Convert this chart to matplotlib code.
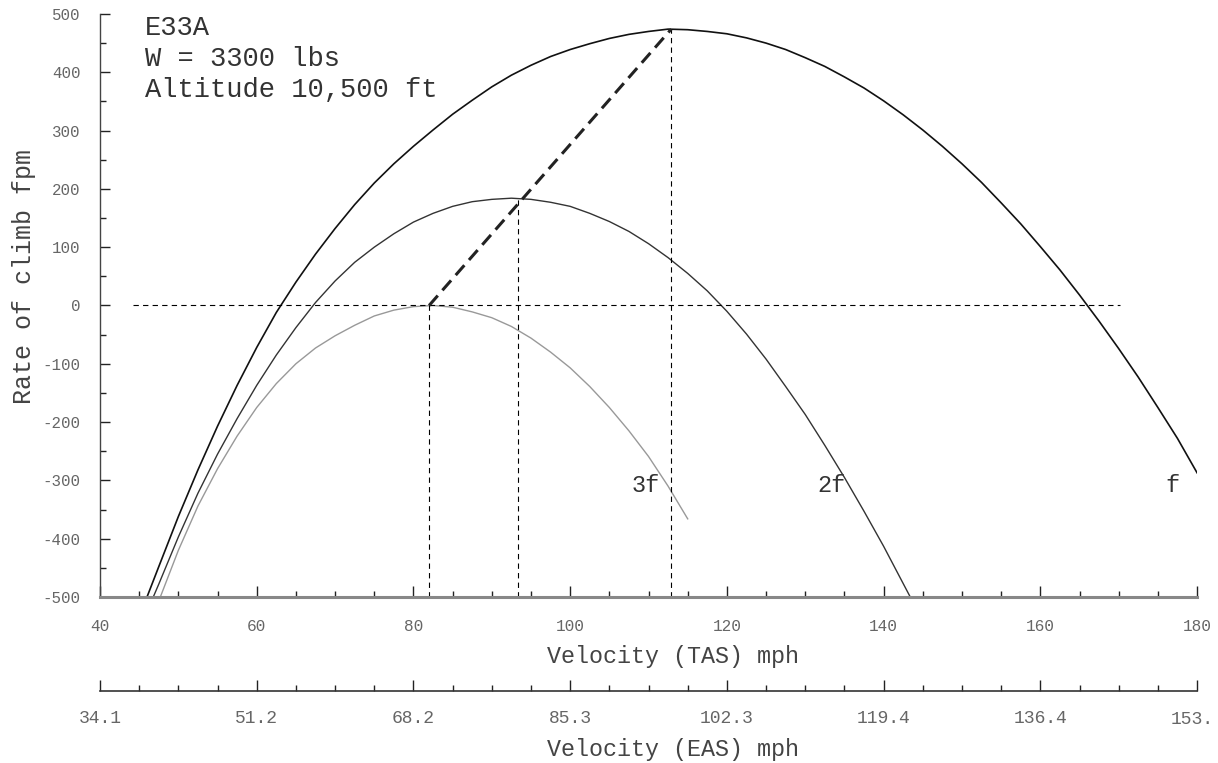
import matplotlib
matplotlib.use("Agg")
import matplotlib.pyplot as plt
from matplotlib.ticker import MultipleLocator

plt.rcParams['font.family'] = ['Liberation Mono', 'DejaVu Sans Mono']
plt.rcParams['axes.unicode_minus'] = False

# rate of climb curves (TAS mph, fpm)
v_f = [46, 47.5, 50, 52.5, 55, 57.5, 60, 62.5, 65, 67.5, 70, 72.5, 75, 77.5, 80, 82.5,
       85, 87.5, 90, 92.5, 95, 97.5, 100, 102.5, 105, 107.5, 110, 112.5, 115, 117.5,
       120, 122.5, 125, 127.5, 130, 132.5, 135, 137.5, 140, 142.5, 145, 147.5, 150,
       152.5, 155, 157.5, 160, 162.5, 165, 167.5, 170, 172.5, 175, 177.5, 180]
roc_f = [-500, -448, -362, -282, -207, -137, -72, -12, 40, 88, 132, 173, 210, 243, 273, 301,
         328, 352, 375, 395, 412, 427, 439, 449, 458, 465, 470, 474, 473, 470,
         466, 459, 450, 439, 425, 410, 392, 373, 351, 327, 301, 273, 243,
         211, 176, 140, 101, 61, 18, -27, -74, -123, -175, -228, -287]

v_2f = [46.8, 47.5, 50, 52.5, 55, 57.5, 60, 62.5, 65, 67.5, 70, 72.5, 75, 77.5, 80, 82.5,
        85, 87.5, 90, 92.5, 95, 97.5, 100, 102.5, 105, 107.5, 110, 112.5, 115, 117.5,
        120, 122.5, 125, 127.5, 130, 132.5, 135, 137.5, 140, 142.5, 143.4]
roc_2f = [-500, -478, -397, -322, -255, -194, -137, -85, -38, 5, 42, 74, 100, 123, 143, 158,
          170, 178, 182, 184, 182, 177, 170, 158, 144, 127, 106, 82, 55, 25,
          -10, -49, -92, -139, -187, -240, -295, -353, -413, -477, -500]

v_3f = [47.7, 50, 52.5, 55, 57.5, 60, 62.5, 65, 67.5, 70, 72.5, 75, 77.5, 80, 82.5,
        85, 87.5, 90, 92.5, 95, 97.5, 100, 102.5, 105, 107.5, 110, 112.5, 115]
roc_3f = [-500, -420, -344, -280, -224, -175, -134, -100, -73, -52, -34, -18, -8, -2, 0,
          -3, -11, -21, -36, -56, -80, -107, -139, -175, -215, -259, -310, -366]

# best climb points (peaks) and helper lines
peak_v = [82, 93.3, 112.9]
peak_roc = [0, 184, 474]

tas_ticks = [40, 60, 80, 100, 120, 140, 160, 180]
eas_labels = ["34.1", "51.2", "68.2", "85.3", "102.3", "119.4", "136.4", "153."]

fig = plt.figure(figsize=(12.18, 7.63), dpi=100)
ax = fig.add_axes([0.0821, 0.2176, 0.9007, 0.7641])

ax.plot(v_f, roc_f, color='#111111', lw=1.2)
ax.plot(v_2f, roc_2f, color='#333333', lw=1.0)
ax.plot(v_3f, roc_3f, color='#999999', lw=1.0)

# zero line and verticals
thin = dict(color='black', lw=0.8, dashes=(4.8, 3.8))
ax.plot([44.25, 170.2], [0, 0], **thin)
for v, r in zip(peak_v, peak_roc):
    ax.plot([v, v], [-500, r], **thin)

# line through the peaks
ax.plot([peak_v[0], peak_v[2]], [peak_roc[0], peak_roc[2]], color='#222222', lw=2.2,
        dashes=(4.3, 2.3))

txt = '#333333'
ax.text(111.5, -308, "3f", fontsize=17, color=txt, ha='right', va='center')
ax.text(135.1, -308, "2f", fontsize=17, color=txt, ha='right', va='center')
ax.text(176.8, -308, "f", fontsize=17, color=txt, ha='center', va='center')

ax.text(0.041, 0.976, "E33A", transform=ax.transAxes, fontsize=19.5, color=txt, va='center')
ax.text(0.041, 0.923, "W = 3300 lbs", transform=ax.transAxes, fontsize=19.5, color=txt, va='center')
ax.text(0.041, 0.870, "Altitude 10,500 ft", transform=ax.transAxes, fontsize=19.5, color=txt,
        va='center')

ax.set_xlim(40, 180)
ax.set_ylim(-500, 500)
ax.set_xticks(tas_ticks)
ax.xaxis.set_minor_locator(MultipleLocator(5))
ax.yaxis.set_major_locator(MultipleLocator(100))
ax.yaxis.set_minor_locator(MultipleLocator(50))

for s in ['top', 'right']:
    ax.spines[s].set_visible(False)
ax.spines['bottom'].set_color('#888888')
ax.spines['bottom'].set_linewidth(2.2)
ax.spines['left'].set_color('#444444')
ax.spines['left'].set_linewidth(1.0)

ax.tick_params(axis='x', which='major', direction='in', length=8, width=1, color='#222222',
               labelsize=11.6, labelcolor='#666666', pad=16)
ax.tick_params(axis='x', which='minor', direction='in', length=4.3, width=1, color='#222222')
ax.tick_params(axis='y', which='major', direction='in', length=7, width=1, color='#222222',
               labelsize=11.3, labelcolor='#666666', pad=14)
ax.tick_params(axis='y', which='minor', direction='in', length=4.3, width=1, color='#222222')

ax.set_xlabel("Velocity (TAS) mph", fontsize=16.8, color='#444444', labelpad=8)
ax.xaxis.label.set_x(0.522)
ax.set_ylabel("Rate of climb fpm", fontsize=18, color='#444444')
ax.yaxis.set_label_coords(-0.058, 0.549)

# equivalent airspeed scale under the TAS axis
sec = ax.secondary_xaxis(-0.161)
sec.set_xticks(tas_ticks)
sec.set_xticklabels(eas_labels[:-1] + [""])
sec.xaxis.set_minor_locator(MultipleLocator(5))
sec.spines['bottom'].set_color('#333333')
sec.spines['bottom'].set_linewidth(1.2)
sec.tick_params(axis='x', which='major', direction='in', length=8, width=1, color='#222222',
                labelsize=13, labelcolor='#666666', pad=14)
sec.tick_params(axis='x', which='minor', direction='in', length=4.3, width=1, color='#222222')
sec.set_xlabel("Velocity (EAS) mph", fontsize=16.8, color='#444444', labelpad=8)
sec.xaxis.label.set_x(0.522)

# last EAS label sits against the right edge of the figure
fig.text(1214 / 1218, 1 - 719 / 763, eas_labels[-1], fontsize=13, color='#666666',
         ha='right', va='center')

fig.savefig("out.png", dpi=100)
